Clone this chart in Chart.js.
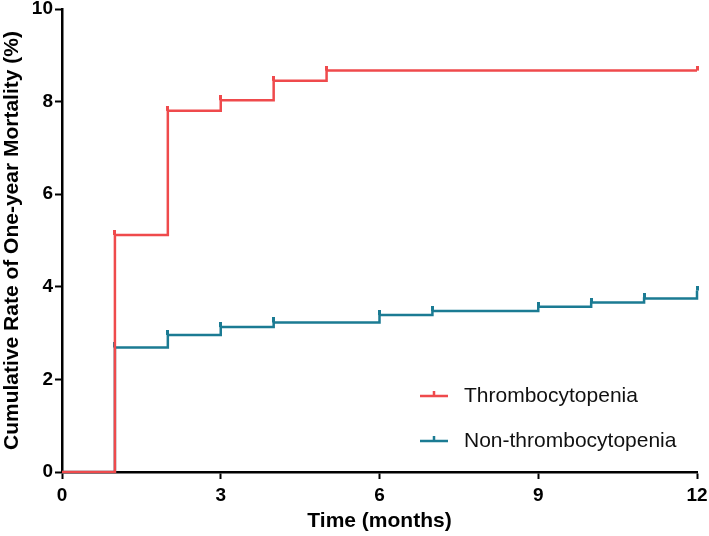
<!DOCTYPE html>
<html>
<head>
<meta charset="utf-8">
<script src="https://cdn.jsdelivr.net/npm/chart.js@4/dist/chart.umd.min.js"></script>
<style>
  html, body { margin: 0; padding: 0; background: #fff; }
  #wrap { width: 709px; height: 536px; }
</style>
</head>
<body>
<div id="wrap"><canvas id="km-chart" width="709" height="536"></canvas></div>
<script>
// Datos de las curvas (meses / % acumulado)
const thromboMonths = [0, 1, 2, 3, 4, 5, 12];
const thromboRate = [0, 5.12, 7.8, 8.03, 8.45, 8.67, 8.67];
const nonThromboMonths = [0, 1, 2, 3, 4, 6, 7, 9, 10, 11, 12];
const nonThromboRate = [0, 2.69, 2.96, 3.13, 3.23, 3.39, 3.48, 3.57, 3.66, 3.75, 3.92];
const seriesLabels = ['Thrombocytopenia', 'Non-thrombocytopenia'];
const xTicks = [0, 3, 6, 9, 12];
const yTicks = [0, 2, 4, 6, 8, 10];

const RED = '#ef4a4c';
const TEAL = '#1b7b93';

// Marca de censura: trazo vertical hacia arriba
function censorMark(color) {
    const c = document.createElement('canvas');
    c.width = 3;
    c.height = 10;
    const g = c.getContext('2d');
    g.fillStyle = color;
    g.fillRect(0, 0, 3, 5);
    return c;
}

function toPoints(xs, ys) {
    return xs.map((x, i) => ({ x: x, y: ys[i] }));
}

// Leyenda dibujada a mano dentro del área
const kmLegend = {
    id: 'kmLegend',
    afterDatasetsDraw(chart) {
        const ctx = chart.ctx;
        const rows = [396, 441];
        chart.data.datasets.forEach((ds, i) => {
            const y = rows[i];
            ctx.save();
            ctx.strokeStyle = ds.borderColor;
            ctx.lineWidth = 2.5;
            ctx.beginPath();
            ctx.moveTo(420, y);
            ctx.lineTo(448, y);
            ctx.moveTo(434, y);
            ctx.lineTo(434, y - 5);
            ctx.stroke();
            ctx.fillStyle = '#111';
            ctx.font = '21px "Liberation Sans", Arial, sans-serif';
            ctx.textBaseline = 'middle';
            ctx.fillText(ds.label, 464, y);
            ctx.restore();
        });
    }
};

const tickFont = { family: '"Liberation Sans", Arial, sans-serif', size: 19, weight: 'bold' };
const titleFont = { family: '"Liberation Sans", Arial, sans-serif', size: 21, weight: 'bold' };

const ctx = document.getElementById('km-chart').getContext('2d');
new Chart(ctx, {
    type: 'line',
    data: {
        datasets: [{
            label: seriesLabels[0],
            data: toPoints(thromboMonths, thromboRate),
            borderColor: RED,
            backgroundColor: RED,
            borderWidth: 2.5,
            stepped: true,
            fill: false,
            clip: false,
            pointStyle: censorMark(RED),
            pointRadius: thromboMonths.map((m, i) => i === 0 ? 0 : 1)
        }, {
            label: seriesLabels[1],
            data: toPoints(nonThromboMonths, nonThromboRate),
            borderColor: TEAL,
            backgroundColor: TEAL,
            borderWidth: 2.5,
            stepped: true,
            fill: false,
            clip: false,
            pointStyle: censorMark(TEAL),
            pointRadius: nonThromboMonths.map((m, i) => i === 0 ? 0 : 1)
        }]
    },
    options: {
        responsive: false,
        animation: false,
        events: [],
        layout: { padding: { top: 9, right: 12, left: 0, bottom: 0 } },
        plugins: {
            legend: { display: false },
            tooltip: { enabled: false }
        },
        scales: {
            x: {
                type: 'linear',
                min: 0,
                max: 12,
                afterFit(scale) {
                    scale.height = 64;
                    scale.paddingLeft = 0;
                    scale.paddingRight = 0;
                },
                afterBuildTicks(scale) { scale.ticks = xTicks.map(v => ({ value: v })); },
                grid: { drawOnChartArea: false, tickLength: 7, tickWidth: 2, tickColor: '#000' },
                border: { color: '#000', width: 2.5 },
                ticks: { color: '#000', font: tickFont, padding: 5, maxRotation: 0 },
                title: { display: true, text: 'Time (months)', color: '#000', font: titleFont, padding: { top: 0, bottom: 2 } }
            },
            y: {
                min: 0,
                max: 10,
                afterFit(scale) {
                    scale.width = 62;
                    scale.paddingTop = 0;
                    scale.paddingBottom = 0;
                },
                afterBuildTicks(scale) { scale.ticks = yTicks.map(v => ({ value: v })); },
                grid: { drawOnChartArea: false, tickLength: 7, tickWidth: 2, tickColor: '#000' },
                border: { color: '#000', width: 2.5 },
                ticks: { color: '#000', font: tickFont, padding: 2 },
                title: { display: true, text: 'Cumulative Rate of One-year Mortality (%)', color: '#000', font: titleFont, padding: { top: 0, bottom: 0 } }
            }
        }
    },
    plugins: [kmLegend]
});
</script>
</body>
</html>
